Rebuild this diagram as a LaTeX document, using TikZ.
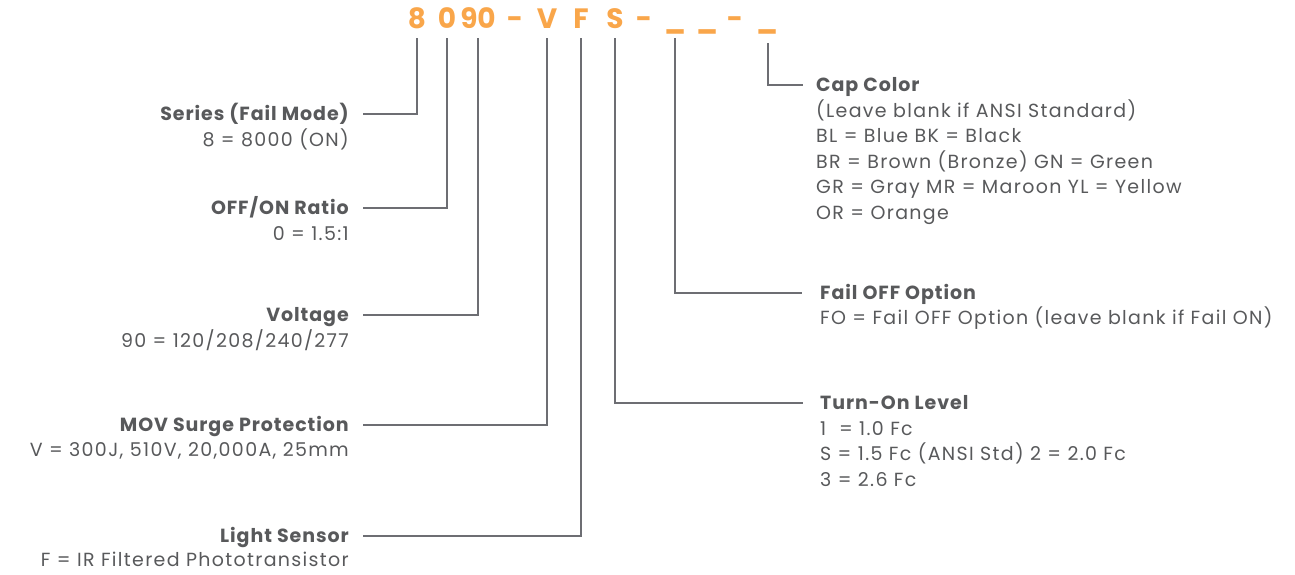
\documentclass[tikz,border=0pt]{standalone}
\usepackage{fontspec}
\setmainfont{Poppins}[LetterSpace=5]
\newfontfamily\codefont{Poppins}
\newfontfamily\descfont{Poppins}[LetterSpace=7]
\usetikzlibrary{positioning}

\definecolor{codeorange}{HTML}{F9A64A}
\definecolor{labelgray}{HTML}{58595B}
\definecolor{linegray}{HTML}{6D6E73}

\tikzset{
	code/.style={text=codeorange, font=\codefont\fontsize{28}{28}\selectfont\bfseries, anchor=base, inner sep=0pt},
	title/.style={text=labelgray, font=\fontsize{19}{25.6}\selectfont\bfseries, inner sep=0pt, text height=13pt, text depth=0pt},
	desc/.style={text=labelgray, font=\descfont\fontsize{19}{25.6}\selectfont, inner sep=0pt},
	lead/.style={draw=linegray, line width=2.4pt},
}

\begin{document}
\begin{tikzpicture}[x=1pt, y=-1pt]
		\useasboundingbox (0, 0) rectangle (1295, 574);
		% the order code
		\node[code] (c8) at (417, 28) {8};
		\node[code] (c0) at (447, 28) {0};
		\node[code] (c90) at (478, 28) {90};
		\node[code] (dash1) at (515, 28) {-};
		\node[code] (cV) at (547, 28) {V};
		\node[code] (cF) at (581, 28) {F};
		\node[code] (cS) at (615, 28) {S};
		\node[code] (dash2) at (644, 28) {-};
		\node[code] (blank1) at (675, 28) {\_};
		\node[code] (blank2) at (707, 28) {\_};
		\node[code] (dash3) at (735, 28) {-};
		\node[code] (blank3) at (767, 28) {\_};
		\coordinate (top) at (0, 38);
		\coordinate (captop) at (0, 43);

		% left side labels
		\node[title, anchor=base east] (series) at (349, 120.5) {Series (Fail Mode)};
		\node[desc, anchor=base east] at ([yshift=-26pt]series.base east) {8 = 8000 (ON)};
		\node[title, anchor=base east] (ratio) at (349, 214.5) {OFF/ON Ratio};
		\node[desc, anchor=base east] at ([yshift=-26pt]ratio.base east) {0 = 1.5:1};
		\node[title, anchor=base east] (volt) at (349, 321.5) {Voltage};
		\node[desc, anchor=base east] at ([yshift=-26pt]volt.base east) {90 = 120/208/240/277};
		\node[title, anchor=base east] (mov) at (349, 431.5) {MOV Surge Protection};
		\node[desc, anchor=base east] at ([yshift=-25pt]mov.base east) {V = 300J, 510V, 20,000A, 25mm};
		\node[title, anchor=base east] (sensor) at (349, 542.5) {Light Sensor};
		\node[desc, anchor=base east] at ([yshift=-24pt]sensor.base east) {F = IR Filtered Phototransistor};

		% right side labels
		\node[title, anchor=base west] (cap) at (816, 91.5) {Cap Color};
		\node[desc, anchor=base west] at ([yshift=-25.6pt]cap.base west) {\begin{tabular}[t]{@{}l@{}}(Leave blank if ANSI Standard)\\BL = Blue BK = Black\\BR = Brown (Bronze) GN = Green\\GR = Gray MR = Maroon YL = Yellow\\OR = Orange\end{tabular}};
		\node[title, anchor=base west] (failoff) at (820, 299.5) {Fail OFF Option};
		\node[desc, anchor=base west] at ([yshift=-25pt]failoff.base west) {FO = Fail OFF Option (leave blank if Fail ON)};
		\node[title, anchor=base west] (turnon) at (820, 409.5) {Turn-On Level};
		\node[desc, anchor=base west] at ([yshift=-25.6pt]turnon.base west) {\begin{tabular}[t]{@{}l@{}}1 \ = 1.0 Fc\\S = 1.5 Fc (ANSI Std) 2 = 2.0 Fc\\3 = 2.6 Fc\end{tabular}};

		% leader lines
		\draw[lead] (c8 |- top) |- ([xshift=14pt]series.east);
		\draw[lead] (c0 |- top) |- ([xshift=14pt]ratio.east);
		\draw[lead] (c90 |- top) |- ([xshift=14pt]volt.east);
		\draw[lead] (cV |- top) |- ([xshift=14pt]mov.east);
		\draw[lead] (cF |- top) |- ([xshift=14pt]sensor.east);
		\draw[lead] (cS |- top) |- ([xshift=-17pt]turnon.west);
		\draw[lead] (blank1 |- top) |- ([xshift=-18pt]failoff.west);
		\draw[lead] ([xshift=1pt]blank3 |- captop) |- ([xshift=-13pt]cap.west);
	\end{tikzpicture}
\end{document}
